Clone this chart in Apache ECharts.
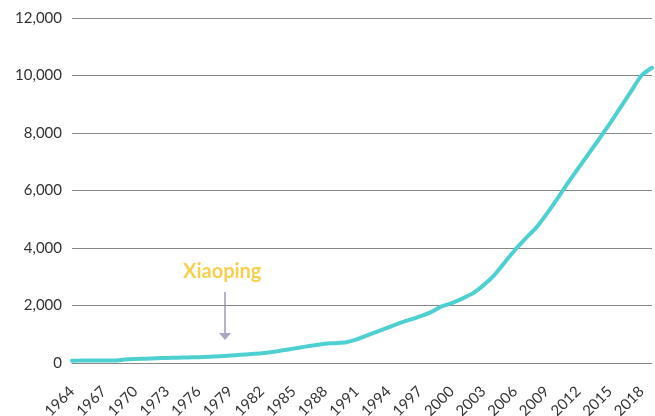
<!DOCTYPE html>
<html>
<head>
<meta charset="utf-8">
<script src="https://cdn.jsdelivr.net/npm/echarts@6/dist/echarts.min.js"></script>
<style>
  html, body { margin: 0; padding: 0; background: #fff; }
  #chart { width: 655px; height: 416px; }
</style>
</head>
<body>
<div id="chart"></div>
<script>
// years on the x axis
const years = [];
for (let y = 1964; y <= 2019; y++) years.push(String(y));

// values
const values = [
  80, 85, 90, 88, 85, 120, 140, 150, 165, 175,
  185, 195, 200, 215, 235, 260, 285, 310, 340, 385,
  440, 500, 560, 620, 670, 690, 720, 820, 960, 1100,
  1240, 1380, 1500, 1620, 1760, 1960, 2080, 2240, 2420, 2700,
  3040, 3480, 3930, 4330, 4700, 5180, 5700, 6250, 6770, 7280,
  7800, 8330, 8880, 9440, 10000, 10270
];

const annotationText = 'Xiaoping';

const chart = echarts.init(document.getElementById('chart'));

const option = {
  animation: false,
  grid: { left: 72, right: 3, top: 18, bottom: 53, outerBoundsMode: 'none' },
  xAxis: {
    type: 'category',
    data: years,
    boundaryGap: false,
    axisTick: { show: false },
    axisLine: { lineStyle: { color: '#888', width: 1 } },
    axisLabel: {
      interval: 2,
      rotate: 45,
      color: '#333',
      fontFamily: 'Lato',
      fontSize: 15,
      margin: 26
    }
  },
  yAxis: {
    type: 'value',
    min: 0,
    max: 12000,
    interval: 2000,
    axisLine: { show: false },
    axisTick: { show: false },
    axisLabel: {
      color: '#333',
      fontFamily: 'Lato',
      fontSize: 15,
      margin: 10,
      formatter: v => v.toLocaleString('en-US')
    },
    splitLine: { lineStyle: { color: '#888', width: 1 } }
  },
  series: [
    {
      type: 'line',
      data: values,
      showSymbol: false,
      smooth: 0.2,
      lineStyle: { color: '#4fd0d0', width: 4, cap: 'round', join: 'round' }
    }
  ],
  graphic: [
    {
      type: 'text',
      left: 183,
      top: 262,
      style: {
        text: annotationText,
        fill: '#f5d04c',
        font: 'bold 20px Lato'
      }
    },
    {
      type: 'line',
      shape: { x1: 225, y1: 292, x2: 225, y2: 334 },
      style: { stroke: '#b4b3c8', lineWidth: 2 }
    },
    {
      type: 'polygon',
      shape: { points: [[219, 333], [231, 333], [225, 340]] },
      style: { fill: '#a9a8c0' }
    }
  ]
};

chart.setOption(option);
</script>
</body>
</html>
